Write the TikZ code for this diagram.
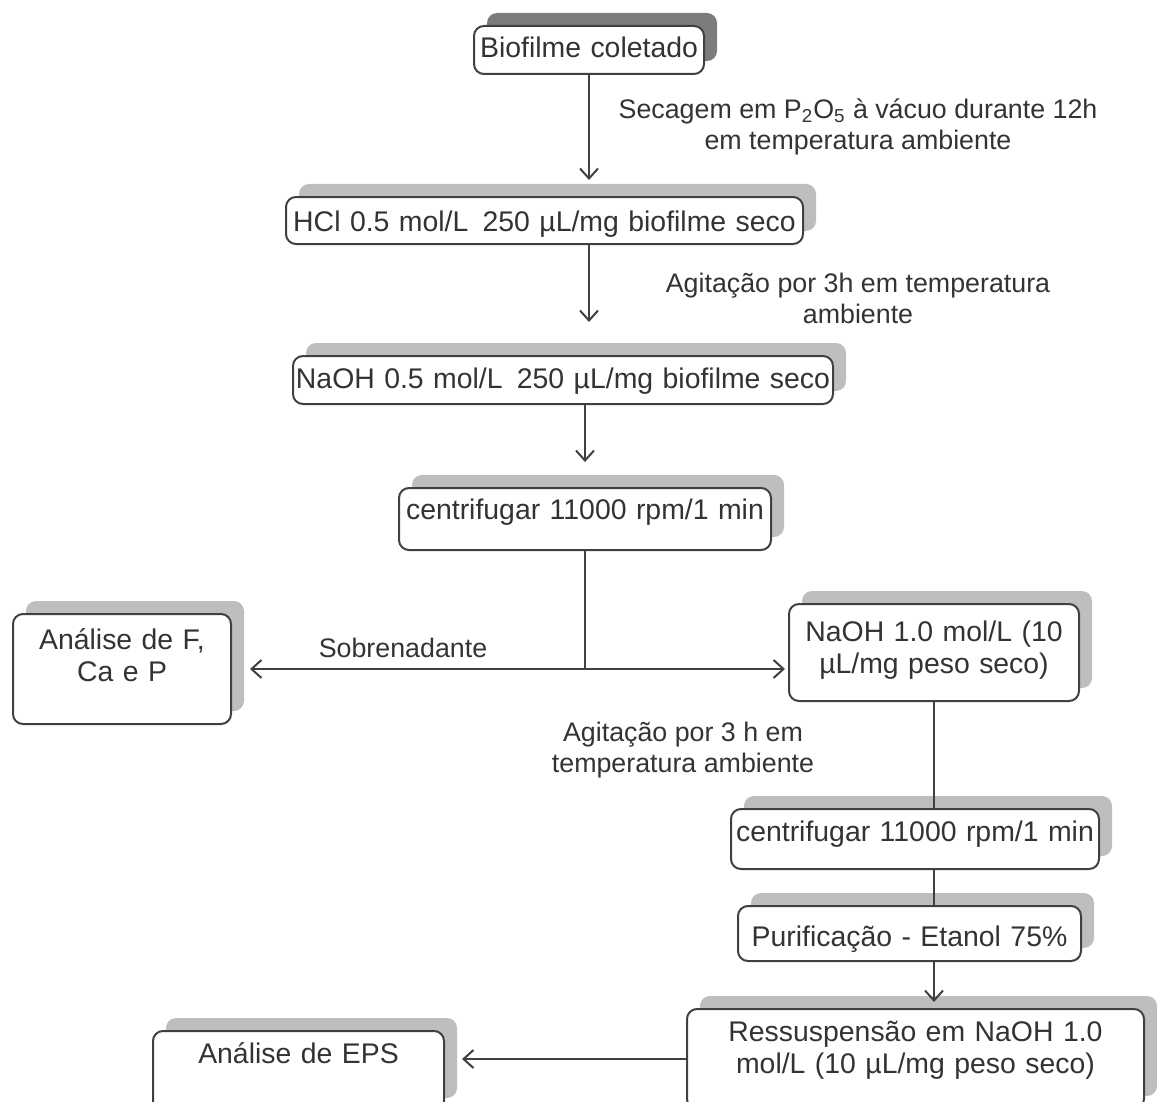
\documentclass[tikz,border=0pt]{standalone}
\usepackage{fontspec}
\setmainfont{Liberation Sans}
\usetikzlibrary{arrows.meta, positioning, shadows}

\definecolor{boxline}{HTML}{404040}
\definecolor{txt}{HTML}{333333}
\definecolor{shade}{HTML}{BEBEBE}
\definecolor{darkshade}{HTML}{7C7C7C}

\begin{document}
\begin{tikzpicture}[
  x=0.5pt, y=-0.5pt,
  box/.style={draw=boxline, line width=1pt, fill=white, rounded corners=5pt,
    anchor=north west, inner xsep=0pt, inner ysep=0pt, align=center, text=txt,
    font=\fontsize{14.2}{16}\selectfont,
    general shadow={shadow xshift=6.5pt, shadow yshift=6.5pt, fill=#1}},
  box/.default=shade,
  note/.style={align=center, text=txt, font=\fontsize{13.4}{15.5}\selectfont},
  flow/.style={-{Straight Barb[length=5pt, width=9pt]}, line width=1pt, draw=boxline},
  plain/.style={line width=1pt, draw=boxline}
]
\clip (0,0) rectangle (1157,1102);

% main column
\node[box=darkshade, text width=115pt, text height=16pt, text depth=8pt] (bio) at (473,25) {Biofilme coletado};
\node[box, text width=258.5pt, text height=17pt, text depth=6.5pt] (hcl) at (285,196) {HCl 0.5 mol/L \,250 µL/mg biofilme seco};
\node[box, text width=270pt, text height=16pt, text depth=8pt] (naoh) at (292,355) {NaOH 0.5 mol/L \,250 µL/mg biofilme seco};
\node[box, text width=186pt, text height=15.5pt, text depth=15.5pt] (cent) at (398,487) {centrifugar 11000 rpm/1 min};

% split
\node[box, text width=109pt, text height=17.5pt, text depth=37.5pt] (fcap) at (12,613) {Análise de F,\\Ca e P};
\node[box, text width=145pt, text height=18.5pt, text depth=30pt] (naohb) at (788,603) {NaOH 1.0 mol/L (10\\µL/mg peso seco)};

% right column
\node[box, text width=184pt, text height=16pt, text depth=14pt] (centb) at (730,808) {centrifugar 11000 rpm/1 min};
\node[box, text width=171.5pt, text height=20pt, text depth=7.5pt] (puri) at (737,905) {Purificação - Etanol 75\%};
\node[box, text width=228.5pt, text height=16pt, text depth=34pt] (ress) at (686,1008) {Ressuspensão em NaOH 1.0\\mol/L (10 µL/mg peso seco)};
\node[box, text width=145.5pt, text height=16pt, text depth=24pt] (eps) at (152,1030) {Análise de EPS};

% notes
\node[note] (dry) at (858,127) {Secagem em P\textsubscript{2}O\textsubscript{5} à vácuo durante 12h\\em temperatura ambiente};
\node[note] (stir) at (858,298) {Agitação por 3h em temperatura\\ambiente};
\node[note] (stirb) at (683,750) {Agitação por 3 h em\\temperatura ambiente};
\node[note] (sob) at (403,648) {Sobrenadante};

% connectors
\draw[flow, shorten >=8pt] (bio.south) -- (bio.south |- hcl.north);
\draw[flow, shorten >=16.5pt] (hcl.south -| bio.south) -- (bio.south |- naoh.north);
\draw[flow, shorten >=12.5pt] (naoh.south -| cent.north) -- (cent.north);
\coordinate (split) at (cent.south |- fcap.east);
\draw[plain] (cent.south) -- (split);
\draw[flow, shorten >=9pt] (split) -- (split -| fcap.east);
\draw[flow, shorten >=1.5pt] (split) -- (split -| naohb.west);
\draw[plain] (naohb.south) -- (naohb.south |- centb.north);
\draw[plain] (naohb.south |- centb.south) -- (naohb.south |- puri.north);
\draw[flow, shorten >=3pt] (naohb.south |- puri.south) -- (naohb.south |- ress.north);
\draw[flow, shorten >=8.5pt] (ress.west) -- (ress.west -| eps.east);
\end{tikzpicture}
\end{document}
